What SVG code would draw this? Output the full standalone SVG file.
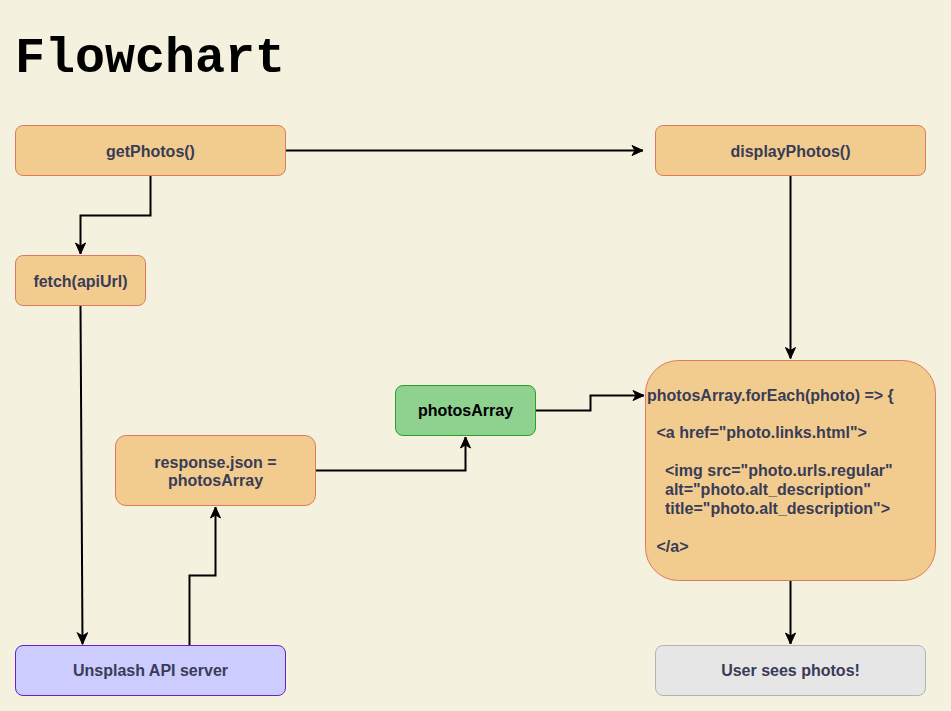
<svg xmlns="http://www.w3.org/2000/svg" width="951" height="711" viewBox="0 0 951 711">
<defs>
<style>
.n{fill:#F2CC8F;stroke:#E07A5F;stroke-width:1}
.t{font-family:"Liberation Sans",Arial,sans-serif;font-weight:bold;font-size:16px;fill:#393C56}
.c{text-anchor:middle}
.e{fill:none;stroke:#000;stroke-width:2}
</style>
<marker id="ah" markerUnits="userSpaceOnUse" markerWidth="14" markerHeight="12" viewBox="-12 -6 14 12" refX="0" refY="0" orient="auto">
<path d="M0,0 L-11,-5 L-8,0 L-11,5 Z" fill="#000" stroke="#000" stroke-width="1"/>
</marker>
</defs>
<rect width="951" height="711" fill="#F4F1DE"/>
<text x="15" y="72" font-family="'Liberation Mono','Courier New',monospace" font-weight="bold" font-size="50" fill="#000">Flowchart</text>

<g id="connectors">
<path class="e" d="M285.5,150.5 L643,150.5" marker-end="url(#ah)"/>
<path class="e" d="M150.5,175.5 L150.5,215.5 L80.5,215.5 L80.5,254" marker-end="url(#ah)"/>
<path class="e" d="M80.5,305.5 L82.5,644" marker-end="url(#ah)"/>
<path class="e" d="M189.5,645.5 L189.5,575.5 L215.5,575.5 L215.5,507" marker-end="url(#ah)"/>
<path class="e" d="M315.5,470.5 L465.5,470.5 L465.5,437" marker-end="url(#ah)"/>
<path class="e" d="M535.5,410.5 L590.5,410.5 L590.5,395.5 L644,395.5" marker-end="url(#ah)"/>
<path class="e" d="M790.5,175.5 L790.5,358.5" marker-end="url(#ah)"/>
<path class="e" d="M790.5,580 L790.5,644" marker-end="url(#ah)"/>
</g>

<g id="getPhotos">
<rect class="n" x="15.5" y="125.5" width="270" height="50" rx="7.5"/>
<text class="t c" x="150.5" y="156.5">getPhotos()</text>
</g>
<g id="displayPhotos">
<rect class="n" x="655.5" y="125.5" width="270" height="50" rx="7.5"/>
<text class="t c" x="790.5" y="156.5">displayPhotos()</text>
</g>
<g id="fetch">
<rect class="n" x="15.5" y="255.5" width="130" height="50" rx="7.5"/>
<text class="t c" x="80.5" y="286.5">fetch(apiUrl)</text>
</g>
<g id="responseJson">
<rect class="n" x="115.5" y="435.5" width="200" height="70" rx="10.5"/>
<text class="t c" x="215.5" y="467.5">response.json =</text>
<text class="t c" x="215.5" y="486">photosArray</text>
</g>
<g id="photosArray">
<rect x="395.5" y="385.5" width="140" height="50" rx="7.5" fill="#8FD18F" stroke="#2A9E2A" stroke-width="1"/>
<text class="t c" x="465.5" y="416" style="fill:#000">photosArray</text>
</g>
<g id="forEach">
<rect class="n" x="645.5" y="360.5" width="290" height="220" rx="33"/>
<text class="t" x="647" y="400.5">photosArray.forEach(photo) =&gt; {</text>
<text class="t" x="656.5" y="438">&lt;a href="photo.links.html"&gt;</text>
<text class="t" x="665" y="476">&lt;img src="photo.urls.regular"</text>
<text class="t" x="665" y="495">alt="photo.alt_description"</text>
<text class="t" x="665" y="514">title="photo.alt_description"&gt;</text>
<text class="t" x="656.5" y="552">&lt;/a&gt;</text>
</g>
<g id="unsplash">
<rect x="15.5" y="645.5" width="270" height="50" rx="7.5" fill="#CCCCFF" stroke="#6A1FCC" stroke-width="1"/>
<text class="t c" x="150.5" y="676">Unsplash API server</text>
</g>
<g id="userSees">
<rect x="655.5" y="645.5" width="270" height="50" rx="7.5" fill="#E6E6E6" stroke="#B3B3B3" stroke-width="1"/>
<text class="t c" x="790.5" y="676">User sees photos!</text>
</g>
</svg>
